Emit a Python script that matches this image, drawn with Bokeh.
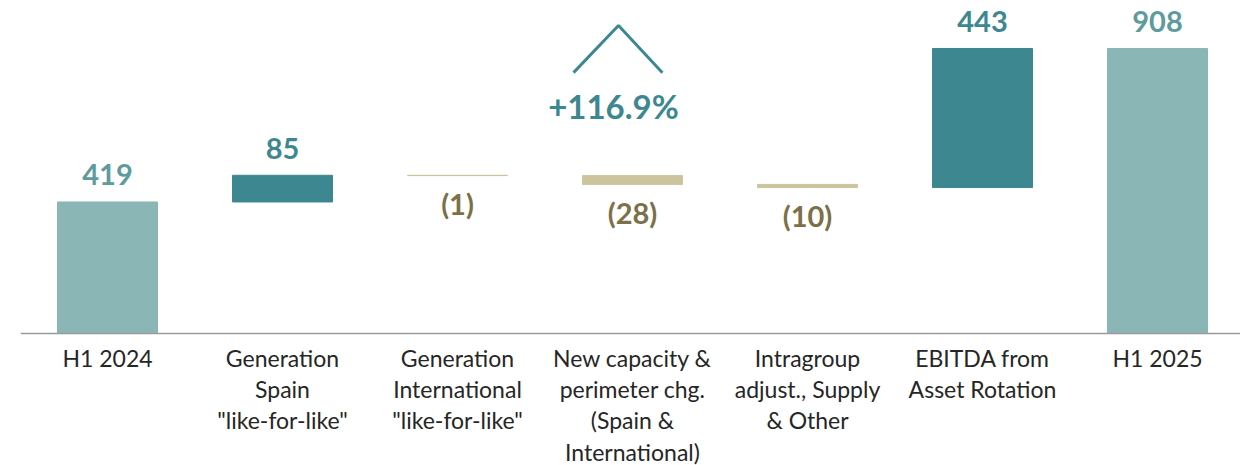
from bokeh.plotting import figure
from bokeh.models import ColumnDataSource, Span
from bokeh.core.properties import value
from bokeh.embed import file_html
from bokeh.resources import INLINE

# ---- data ----
categories = [
    "H1 2024",
    "Generation\nSpain\n\"like-for-like\"",
    "Generation\nInternational\n\"like-for-like\"",
    "New capacity &\nperimeter chg.\n(Spain &\nInternational)",
    "Intragroup\nadjust., Supply\n& Other",
    "EBITDA from\nAsset Rotation",
    "H1 2025",
]
values = [419, 85, -1, -28, -10, 443, 908]
kinds = ["total", "delta", "delta", "delta", "delta", "delta", "total"]
growth_label = "+116.9%"

# ---- styles ----
C_TOTAL = "#8AB6B6"
C_UP = "#3D8890"
C_DOWN = "#CBC49D"
L_TOTAL = "#5E9B9C"
L_UP = "#3D8890"
L_DOWN = "#7B7047"

# ---- waterfall geometry from values ----
bottoms, tops, fills, lcols, texts, xs = [], [], [], [], [], []
running = 0
for i, (v, k) in enumerate(zip(values, kinds)):
    xs.append(i)
    if k == "total":
        b, t = 0, v
        running = v
        fills.append(C_TOTAL); lcols.append(L_TOTAL)
    else:
        b, t = min(running, running + v), max(running, running + v)
        running += v
        if v >= 0:
            fills.append(C_UP); lcols.append(L_UP)
        else:
            fills.append(C_DOWN); lcols.append(L_DOWN)
    bottoms.append(b); tops.append(t)
    texts.append(f"({abs(v)})" if v < 0 else f"{v}")

src = ColumnDataSource(dict(x=xs, bottom=bottoms, top=tops, fill=fills,
                            lcol=lcols, text=texts, cat=categories))

W, H = 1240, 465
BASE = 333
PX_PER_UNIT = 0.3139
left_border = 20
frame_w = W - left_border
x0 = -87 / 175
p = figure(width=W, height=H, output_backend="svg", toolbar_location=None,
           x_range=(x0, x0 + frame_w / 175),
           y_range=(-(H - BASE) / PX_PER_UNIT, BASE / PX_PER_UNIT),
           min_border_left=left_border, min_border_right=0,
           min_border_top=0, min_border_bottom=0)
p.axis.visible = False
p.grid.visible = False
p.outline_line_color = None
p.background_fill_color = "white"

p.vbar(x="x", bottom="bottom", top="top", width=100 / 175, source=src,
       fill_color="fill", line_color="fill", line_width=1)

p.add_layout(Span(location=0, dimension="width", line_color="#9A9A9A", line_width=1.5))

# value labels
pos = ColumnDataSource(dict(x=[x for x, v in zip(xs, values) if v >= 0],
                            y=[t for t, v in zip(tops, values) if v >= 0],
                            text=[t for t, v in zip(texts, values) if v >= 0],
                            c=[c for c, v in zip(lcols, values) if v >= 0]))
neg = ColumnDataSource(dict(x=[x for x, v in zip(xs, values) if v < 0],
                            y=[b for b, v in zip(bottoms, values) if v < 0],
                            text=[t for t, v in zip(texts, values) if v < 0],
                            c=[c for c, v in zip(lcols, values) if v < 0]))
p.text(x="x", y="y", text="text", source=pos, text_color="c",
       text_font=value("Lato"), text_font_style="bold", text_font_size="29px",
       text_align="center", text_baseline="middle", y_offset=-27)
p.text(x="x", y="y", text="text", source=neg, text_color="c",
       text_font=value("Lato"), text_font_style="bold", text_font_size="29px",
       text_align="center", text_baseline="middle", y_offset=28)

# category labels
p.text(x="x", y=0, text="cat", source=src, text_color="#262626",
       text_font=value("Lato"), text_font_size="23px", text_align="center",
       text_baseline="top", text_line_height=1.12, y_offset=10)

# growth caret and label
p.line(x=[2.663, 2.92, 3.171], y=[831, 981, 831], line_color=C_UP, line_width=3)
p.text(x=[2.891], y=[726], text=[growth_label], text_color=C_UP,
       text_font=value("Lato"), text_font_style="bold", text_font_size="33px",
       text_align="center", text_baseline="middle")

open("out.html", "w").write(file_html(p, INLINE))
